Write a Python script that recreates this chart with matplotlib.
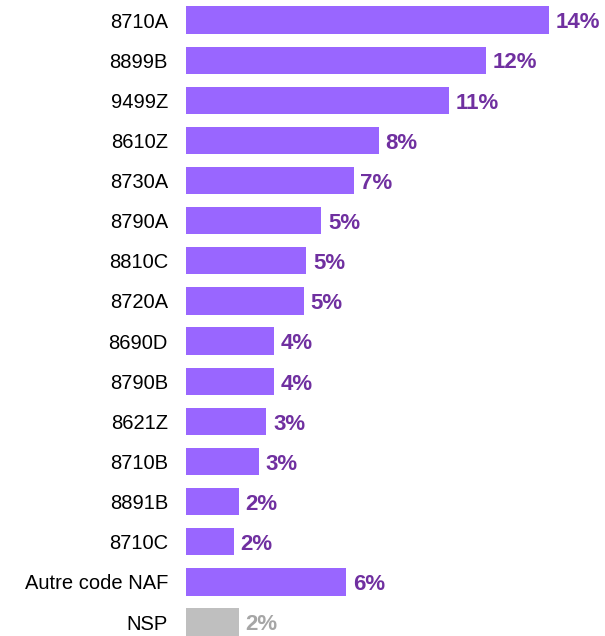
import matplotlib.pyplot as plt

plt.rcParams['font.family'] = ['Liberation Sans', 'DejaVu Sans']

codes = ['8710A', '8899B', '9499Z', '8610Z', '8730A', '8790A', '8810C', '8720A',
         '8690D', '8790B', '8621Z', '8710B', '8891B', '8710C', 'Autre code NAF', 'NSP']
values = [14.5, 12.0, 10.5, 7.7, 6.7, 5.4, 4.8, 4.7, 3.5, 3.5, 3.2, 2.9, 2.1, 1.9, 6.4, 2.1]
labels = ['14%', '12%', '11%', '8%', '7%', '5%', '5%', '5%',
          '4%', '4%', '3%', '3%', '2%', '2%', '6%', '2%']

bar_col = ['#9966ff'] * (len(codes) - 1) + ['#bfbfbf']
txt_col = ['#7030a0'] * (len(codes) - 1) + ['#a6a6a6']

fig = plt.figure(figsize=(6.05, 6.36), dpi=100)
ax = fig.add_axes([186 / 605, 0, 414 / 605, 1])

y = list(range(len(codes)))
ax.barh(y, values, height=0.68, color=bar_col, edgecolor='none')

for yi, v, lab, c in zip(y, values, labels, txt_col):
    ax.annotate(lab, (v, yi), xytext=(5, -2), textcoords='offset points',
                ha='left', va='center', fontsize=16, fontweight='bold', color=c)

ax.set_xlim(0, 16.56)
ax.set_ylim(636 / 40.13 - 0.5, -0.5)
ax.set_yticks(y)
ax.set_yticklabels(codes, fontsize=14.5)
ax.tick_params(axis='y', length=0, pad=13, colors='#000000')
ax.set_xticks([])
for s in ax.spines.values():
    s.set_visible(False)

fig.savefig('out.png', dpi=100)
